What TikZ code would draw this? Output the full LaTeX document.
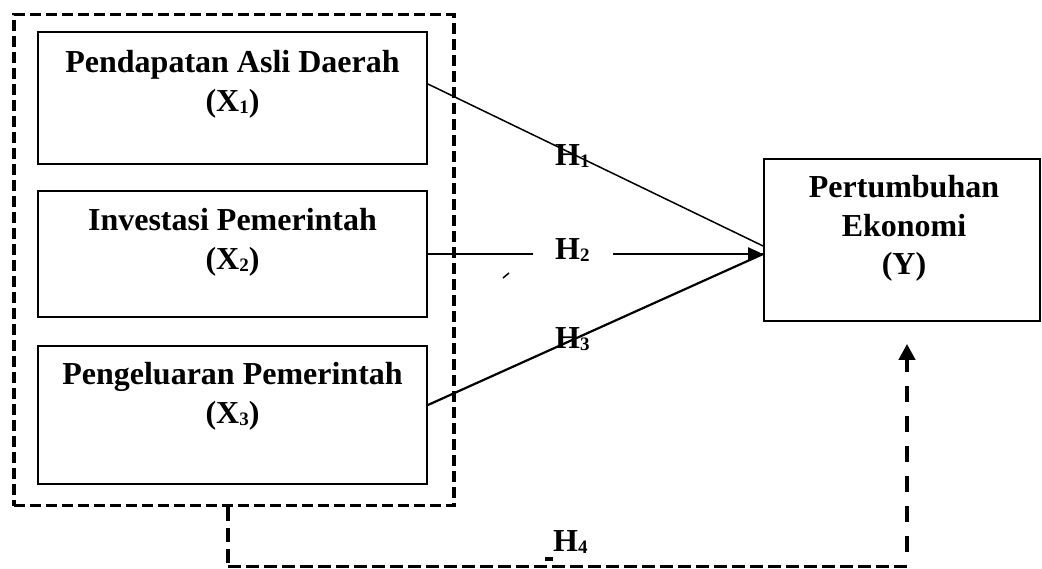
\documentclass[tikz,border=0pt]{standalone}
\usepackage{fontspec}
\setmainfont{Liberation Serif}
\usetikzlibrary{arrows.meta,calc}
\newcommand{\sbs}[1]{\raisebox{-2pt}{\fontsize{19}{19}\selectfont #1}}
\begin{document}
\begin{tikzpicture}[x=1pt,y=-1pt,
  box/.style={draw,line width=1.8pt,inner sep=0pt},
  txt/.style={font=\fontsize{32}{39}\selectfont\bfseries,anchor=base,inner sep=0pt},
  hlab/.style={font=\fontsize{32}{39}\selectfont\bfseries,anchor=base west,inner sep=0pt},
  grpbox/.style={draw,line width=3.8pt,dash pattern=on 11pt off 5pt,inner sep=0pt},
  thinlink/.style={line width=1.5pt},
  thicklink/.style={line width=2.2pt},
  arrowtip/.style={-{Triangle[length=15pt,width=13pt]}},
  dstub/.style={line width=4pt,dash pattern=on 14pt off 7pt},
  dbottom/.style={line width=3pt,dash pattern=on 13pt off 5pt},
  dup/.style={line width=4pt,dash pattern=on 16pt off 14pt,dash phase=16pt,-{Triangle[length=16pt,width=16pt]}}]
\useasboundingbox (0,0) rectangle (1042,568);

% boxes
\node[grpbox,minimum width=440,minimum height=491] (grp) at (234,260) {};
\node[box,minimum width=389,minimum height=132] (b1) at (232.5,98) {};
\node[box,minimum width=389,minimum height=126] (b2) at (232.5,254) {};
\node[box,minimum width=389,minimum height=138] (b3) at (232.5,415) {};
\node[box,minimum width=276,minimum height=162] (by) at (902,240) {};

% texts
\node[txt] (t1a) at ($(b1.north)+(0,41)$) {Pendapatan Asli Daerah};
\node[txt] (t1b) at ($(b1.north)+(0,80)$) {(X\sbs{1})};
\node[txt] (t2a) at ($(b2.north)+(0,40)$) {Investasi Pemerintah};
\node[txt] (t2b) at ($(b2.north)+(0,79)$) {(X\sbs{2})};
\node[txt] (t3a) at ($(b3.north)+(0,39)$) {Pengeluaran Pemerintah};
\node[txt] (t3b) at ($(b3.north)+(0,78)$) {(X\sbs{3})};
\node[txt] (tya) at ($(by.north)+(2,39)$) {Pertumbuhan};
\node[txt] (tyb) at ($(by.north)+(2,78)$) {Ekonomi};
\node[txt] (tyc) at ($(by.north)+(2,116)$) {(Y)};

% hypothesis labels
\node[hlab] (h1) at (555,165) {H\sbs{1}};
\node[hlab] (h2) at (555,259) {H\sbs{2}};
\node[hlab] (h3) at (555,348) {H\sbs{3}};
\node[hlab] (h4) at (553,551) {H\sbs{4}};

% connector coordinates
\coordinate (tip) at (by.west |- b2.east);
\coordinate (e1) at ($(by.west)+(0,6)$);
\coordinate (g1) at (533,254);
\coordinate (g2) at (613,254);

% connectors
\draw[thinlink] ($(b1.east)+(0,-14)$) -- (e1);
\draw[thicklink] (b2.east) -- (g1);
\draw[thicklink] ($(b3.east)+(0,-10)$) -- (tip);
\draw[thicklink,arrowtip] (g2) -- (tip);

% H4 dashed path
\coordinate (s0) at (grp.south -| 228,0);
\coordinate (s1) at (228,566);
\coordinate (s2) at (907,566);
\coordinate (up) at ($(by.south)+(5,22)$);
\draw[dstub] (s0) -- (s1);
\draw[dbottom] (s1) -- (s2);
\draw[dup] (s2) -- (up);

% small stray marks
\draw[line width=1.5pt] (503,278) -- (509,273);
\fill (545,557) rectangle (553,561);
\end{tikzpicture}
\end{document}
